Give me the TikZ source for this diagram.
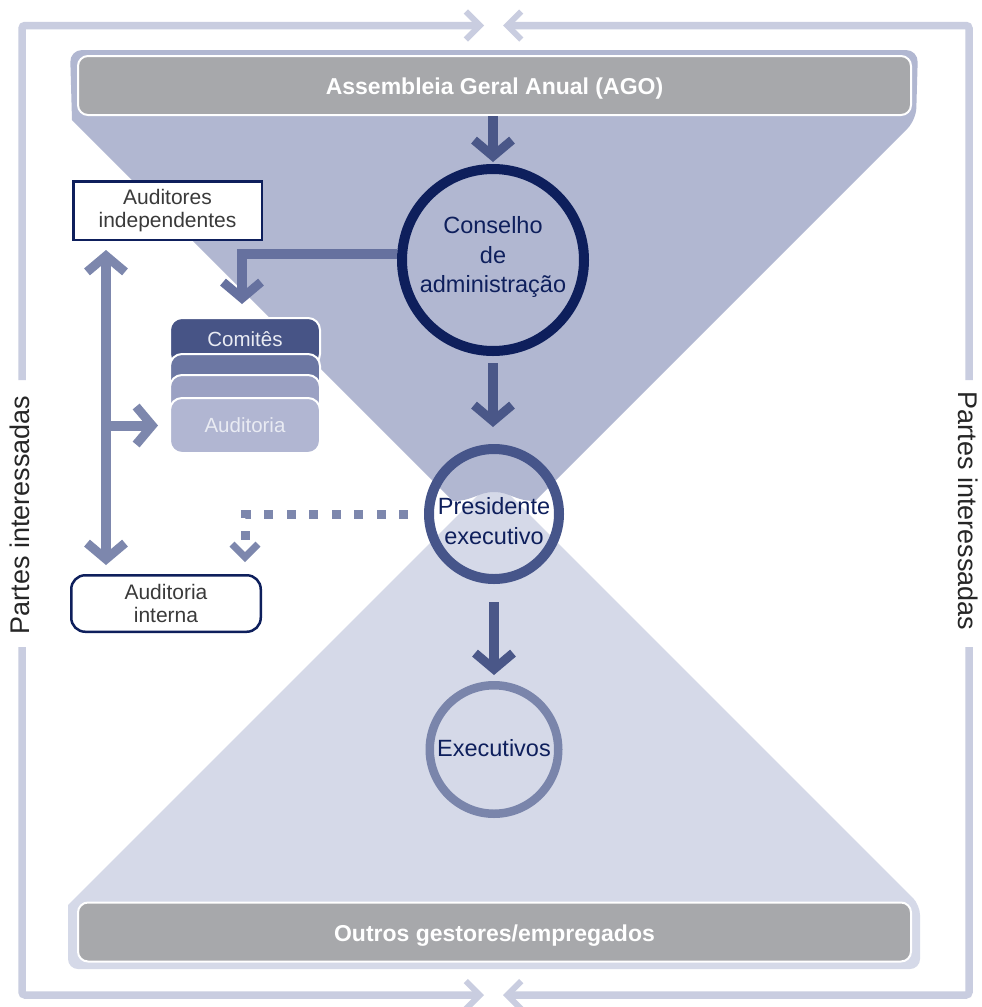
\documentclass[tikz,border=0pt]{standalone}
\usepackage{fontspec}
\setmainfont{Liberation Sans}
\usetikzlibrary{arrows.meta,calc}
\definecolor{frameC}{HTML}{C9CDE0}
\definecolor{funU}{HTML}{B1B7D1}
\definecolor{funL}{HTML}{D5D9E8}
\definecolor{greyC}{HTML}{A7A8AB}
\definecolor{navyC}{HTML}{0E1F5C}
\definecolor{presC}{HTML}{46558A}
\definecolor{execC}{HTML}{7A85AB}
\definecolor{arrD}{HTML}{4A5788}
\definecolor{arrM}{HTML}{66719F}
\definecolor{arrL}{HTML}{7D87AD}
\definecolor{layA}{HTML}{475486}
\definecolor{layB}{HTML}{6C77A3}
\definecolor{layC}{HTML}{9BA1C3}
\definecolor{layD}{HTML}{B1B6D2}
\definecolor{txtG}{HTML}{3A3A3A}
\definecolor{layT}{HTML}{E9EBF3}
\begin{document}
\begin{tikzpicture}[x=1pt,y=-1pt,
  bigtip/.tip={Straight Barb[length=16pt,width=38pt,line width=9pt]},
  smalltip/.tip={Straight Barb[length=13pt,width=26pt,line width=7pt]},
  frametip/.tip={Straight Barb[length=14pt,width=28pt,line width=6pt]},
  arrowD/.style={draw=arrD, line width=10pt, -{bigtip}},
  arrowM/.style={draw=arrM, line width=10pt, -{bigtip}},
  arrowL/.style={draw=arrL, line width=10pt, -{bigtip}},
  dashA/.style={draw=arrL, line width=9pt, dash pattern=on 9pt off 13.5pt, -{smalltip}},
  frameln/.style={draw=frameC, line width=7.5pt, rounded corners=3pt, -{frametip}},
  gbox/.style={rectangle, rounded corners=10pt, fill=greyC, draw=white, line width=2pt,
    minimum width=833pt, minimum height=59pt, inner sep=0pt, text=white,
    text height=18pt, text depth=0pt,
    font=\bfseries\fontsize{23}{27}\selectfont},
  ring/.style={circle, inner sep=0pt},
  ctext/.style={inner sep=0pt, align=center, text=navyC, font=\fontsize{23.5}{29.5}\selectfont},
  wbox/.style={rectangle, draw=navyC, fill=white, line width=2.5pt, minimum width=188.5pt,
    minimum height=58.5pt, inner sep=0pt, align=center, text=txtG,
    font=\fontsize{21}{23.5}\selectfont},
  layer/.style={rectangle, draw=white, line width=2pt, rounded corners=12pt,
    minimum width=150pt, inner sep=0pt},
  side/.style={inner sep=0pt, text=black!85, font=\fontsize{27}{32}\selectfont}
]
\useasboundingbox (0,0) rectangle (982,1007);
\fill[white] (0,0) rectangle (982,1007);

% funnels
\fill[funL] (494,479) -- (68,905) [rounded corners=10pt] -- (68,969) -- (920,969) -- (920,905) [sharp corners] -- cycle;
\fill[funU] (72,120) [rounded corners=12pt] -- (70,50) -- (918,50) -- (916,120) [sharp corners]
  -- (535,501) .. controls (515,501) and (510,492) .. (494,492) .. controls (478,492) and (473,501) .. (453,501) -- cycle;

% frame
\coordinate (fLt) at (22,380);
\coordinate (fLb) at (22,647);
\coordinate (fRt) at (969,380);
\coordinate (fRb) at (969,647);
\coordinate (fTl) at (484,25.5);
\coordinate (fTr) at (503,25.5);
\coordinate (fBl) at (484,995);
\coordinate (fBr) at (503,995);
\draw[frameln] (fLt) -- (22,25.5) -- (fTl);
\draw[frameln] (fRt) -- (969,25.5) -- (fTr);
\draw[frameln] (fLb) -- (22,995) -- (fBl);
\draw[frameln] (fRb) -- (969,995) -- (fBr);
\node[side, rotate=90] (pl) at (20,515) {Partes interessadas};
\node[side, rotate=-90] (pr) at (968,511) {Partes interessadas};

% grey boxes
\node[gbox] (ago) at (494.5,85.5) {Assembleia Geral Anual (AGO)};
\node[gbox] (outros) at (494.5,932) {Outros gestores/empregados};

% rings
\node[ring, draw=navyC, line width=10pt, minimum size=182pt] (cons) at (493,260) {};
\node[ctext] (consT) at (493,257) {Conselho\\de\\administração};
\node[ring, draw=presC, line width=10pt, minimum size=130pt] (pres) at (494,514) {};
\node[ctext] (presT) at (494,521) {Presidente\\executivo};
\node[ring, draw=execC, line width=8.5pt, minimum size=128.5pt] (exec) at (494,749.5) {};
\node[ctext] (execT) at (494,748) {Executivos};

% white boxes
\node[wbox] (audind) at (167.5,210.5) {Auditores\\independentes};
\node[wbox, rounded corners=14pt, minimum width=189.5pt, minimum height=56.5pt] (audint) at (166,603.5) {Auditoria\\interna};

% committee stack
\node[layer, fill=layA, minimum height=48pt] (comit) at (245,342) {};
\node[layer, fill=layB, minimum height=38pt] (layb) at (245,373) {};
\node[layer, fill=layC, minimum height=38pt] (layc) at (245,394) {};
\node[layer, fill=layD, minimum height=55pt, text=layT, font=\fontsize{20.5}{24}\selectfont] (aud) at (245,425.5) {Auditoria};
\node[inner sep=0pt, text=layT, font=\fontsize{20.5}{24}\selectfont] (comitT) at (245,339.5) {Comitês};

% connectors
\draw[arrowD, shorten >=2pt] (ago.south -| cons.north) -- (cons.north);
\draw[arrowD, shorten <=7pt, shorten >=17pt] (cons.south) -- (cons.south |- pres.north);
\draw[arrowD, shorten <=18pt, shorten >=6pt] (pres.south) -- (exec.north);
\draw[arrowM] ([yshift=6pt]cons.west) -| ($(comit.north)+(-3,-13)$);
\coordinate (vx) at (106,400);
\draw[arrowL, {bigtip}-{bigtip}] ($(audind.south -| vx)+(0,9)$) -- ($(audint.north -| vx)+(0,-9)$);
\draw[arrowL] (vx |- aud.west) -- ($(aud.west)+(-11,0)$);
\coordinate (dx) at (245,540);
\draw[dashA] ($(pres.west)+(-16,0)$) -| ($(dx |- audint.north)+(0,-12)$);
\end{tikzpicture}
\end{document}
